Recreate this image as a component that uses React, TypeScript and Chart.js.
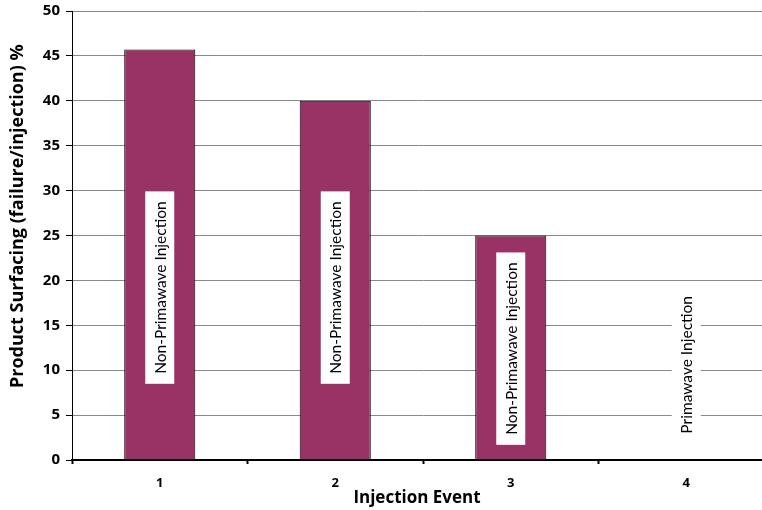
import React, { useEffect, useRef } from "react";
import { Chart, registerables } from "chart.js";

Chart.register(...registerables);

const categories = ["1", "2", "3", "4"];
const surfacing = [45.7, 40, 25, 0];
const barLabels = [
  "Non-Primawave Injection",
  "Non-Primawave Injection",
  "Non-Primawave Injection",
  "Primawave Injection",
];
const yTicks = [0, 5, 10, 15, 20, 25, 30, 35, 40, 45, 50];
const xTitle = "Injection Event";
const yTitle = "Product Surfacing (failure/injection) %";

const FONT = "'Open Sans', Lato, sans-serif";
const LABEL_FONT = "Lato, 'Open Sans', sans-serif";

const labelAnchors = [19.2, 19.2, 12.4, 10.6];

const labelPlugin = {
  id: "barLabels",
  afterDatasetsDraw(chart: any) {
    const ctx = chart.ctx;
    const meta = chart.getDatasetMeta(0);
    const yScale = chart.scales.y;
    ctx.save();
    ctx.font = `15.5px ${LABEL_FONT}`;
    meta.data.forEach((bar: any, i: number) => {
      const text = barLabels[i];
      const cx = bar.x;
      const cy = yScale.getPixelForValue(labelAnchors[i]);
      const tw = ctx.measureText(text).width;
      const boxH = tw + 20;
      const boxW = 29;
      ctx.fillStyle = "#ffffff";
      ctx.fillRect(cx - boxW / 2, cy - boxH / 2, boxW, boxH);
      ctx.save();
      ctx.translate(cx, cy);
      ctx.rotate(-Math.PI / 2);
      ctx.fillStyle = "#000000";
      ctx.textAlign = "center";
      ctx.textBaseline = "middle";
      ctx.fillText(text, 0, 1);
      ctx.restore();
    });
    ctx.restore();
  },
  afterDraw(chart: any) {
    const ctx = chart.ctx;
    const area = chart.chartArea;
    ctx.save();
    ctx.fillStyle = "#000000";
    ctx.textAlign = "center";
    ctx.textBaseline = "middle";
    // y title
    ctx.font = `bold 18px ${FONT}`;
    ctx.save();
    ctx.translate(18, area.top + (area.bottom - area.top) * 0.457);
    ctx.rotate(-Math.PI / 2);
    ctx.fillText(yTitle, 0, 0);
    ctx.restore();
    // x title
    ctx.font = `bold 17px ${FONT}`;
    ctx.fillText(xTitle, 417, area.bottom + 38);
    ctx.restore();
  },
};

export default function App() {
  const ref = useRef<HTMLCanvasElement | null>(null);

  useEffect(() => {
    document.body.style.margin = "0";
    const canvas = ref.current!;
    const chart = new Chart(canvas, {
      type: "bar",
      data: {
        labels: categories,
        datasets: [
          {
            data: surfacing,
            backgroundColor: "#993366",
            borderColor: "#000000",
            borderWidth: 1,
            categoryPercentage: 1,
            barPercentage: 0.405,
          },
        ],
      },
      options: {
        animation: false,
        responsive: false,
        devicePixelRatio: 1,
        layout: { padding: { top: 0, right: 2, left: 0, bottom: 0 } },
        plugins: {
          legend: { display: false },
          tooltip: { enabled: false },
        },
        scales: {
          x: {
            offset: true,
            grid: {
              display: true,
              drawOnChartArea: false,
              offset: true,
              tickLength: 4,
              tickColor: "#000000",
              tickWidth: 2,
            },
            border: { color: "#000000", width: 2 },
            ticks: {
              color: "#000000",
              font: { family: FONT, size: 13, weight: "bold" },
              padding: 11,
              maxRotation: 0,
            },
            afterFit(scale: any) {
              scale.height = 50;
            },
          },
          y: {
            min: 0,
            max: 50,
            afterBuildTicks(scale: any) {
              scale.ticks = yTicks.map((v) => ({ value: v }));
            },
            grid: {
              color: "#8a8a8a",
              lineWidth: 1,
              tickLength: 6,
              tickColor: "#000000",
            },
            border: { color: "#000000", width: 1 },
            ticks: {
              color: "#000000",
              font: { family: FONT, size: 15, weight: "bold" },
              padding: 6,
            },
            afterFit(scale: any) {
              scale.width = 72;
            },
          },
        },
      },
      plugins: [labelPlugin],
    });
    return () => chart.destroy();
  }, []);

  return (
    <div
      style={{
        position: "absolute",
        left: 0,
        top: 0,
        width: 762,
        height: 510,
        overflow: "hidden",
        background: "#ffffff",
      }}
    >
      <canvas
        ref={ref}
        width={776}
        height={514}
        style={{ display: "block", marginTop: -4 }}
      />
    </div>
  );
}
